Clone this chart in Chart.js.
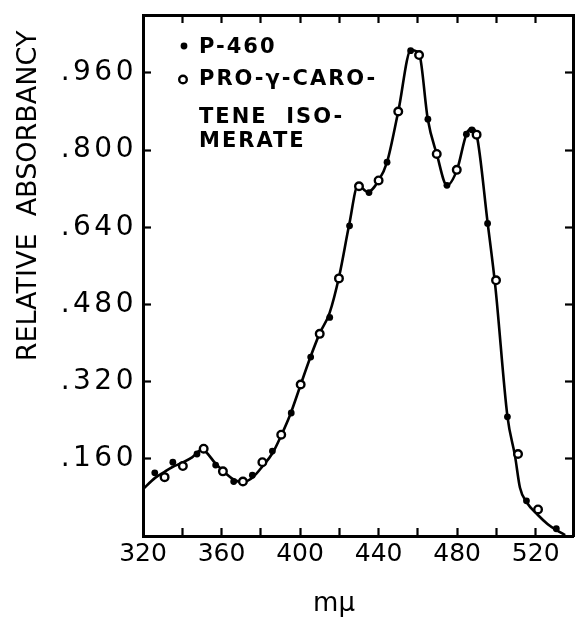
<!DOCTYPE html>
<html>
<head>
<meta charset="utf-8">
<script src="https://cdn.jsdelivr.net/npm/chart.js@4/dist/chart.umd.min.js"></script>
<style>
html,body{margin:0;padding:0;background:#fff;}
#wrap{width:575px;height:621px;}
</style>
</head>
<body>
<div id="wrap"><canvas id="c" width="575" height="621"></canvas></div>
<script>
// P-460 (filled dots)
const p460X = [326, 335.2, 347.5, 357, 366.2, 375.7, 385.9, 395.5, 405.4, 415.1, 425.2, 435.1, 444.3, 456.3, 465.1, 474.8, 484.7, 487.5, 495.5, 505.6, 515.3, 530.5];
const p460Y = [0.131, 0.153, 0.170, 0.147, 0.113, 0.126, 0.176, 0.255, 0.371, 0.453, 0.643, 0.712, 0.775, 1.006, 0.864, 0.727, 0.833, 0.842, 0.648, 0.247, 0.073, 0.015];
// Pro-gamma-carotene isomerate (open circles)
const isoX = [331, 340.3, 350.9, 360.7, 370.9, 380.8, 390.4, 400.3, 410, 419.8, 430, 440, 450, 460.6, 469.6, 479.8, 489.9, 499.8, 511, 521.2];
const isoY = [0.122, 0.145, 0.181, 0.134, 0.113, 0.153, 0.210, 0.314, 0.419, 0.534, 0.725, 0.737, 0.880, 0.997, 0.792, 0.759, 0.832, 0.530, 0.170, 0.055];
// hand-drawn curve through the points
const curveX = [320, 326, 331, 335, 340, 345, 350, 357, 362, 367, 371, 376, 381, 386, 390, 395, 400, 405, 410, 415, 420, 425, 429.5, 434.5, 440, 444.3, 450, 456.5, 459, 461, 465, 469.6, 474.8, 480, 484.7, 487.5, 490, 495.5, 499.5, 505.6, 509.5, 512, 515.4, 521, 526, 530.6, 535];
const curveY = [0.097, 0.120, 0.133, 0.143, 0.152, 0.163, 0.179, 0.150, 0.130, 0.115, 0.112, 0.122, 0.145, 0.172, 0.205, 0.252, 0.310, 0.368, 0.420, 0.462, 0.540, 0.645, 0.727, 0.713, 0.737, 0.775, 0.880, 1.008, 1.005, 0.995, 0.865, 0.792, 0.727, 0.760, 0.833, 0.845, 0.830, 0.650, 0.515, 0.248, 0.165, 0.100, 0.070, 0.044, 0.025, 0.012, 0.002];

const xMin = 320, xMax = 539;
const yMin = 0, yMax = 1.08;
const xTickValues = [320, 340, 360, 380, 400, 420, 440, 460, 480, 500, 520];
const xTickLabels = ['320', '', '360', '', '400', '', '440', '', '480', '', '520'];
const yTickValues = [0.16, 0.32, 0.48, 0.64, 0.80, 0.96];
const yTickLabels = ['.160', '.320', '.480', '.640', '.800', '.960'];
const yTitle = 'RELATIVE  ABSORBANCY';
const xTitle = 'mμ';
const legendP460 = ['P-460'];
const legendIso = ['PRO-γ-CARO-', 'TENE  ISO-', 'MERATE'];

const FONT = '"DejaVu Sans", sans-serif';

function xTicksBuild(s) { s.ticks = xTickValues.map(v => ({ value: v })); }
function yTicksBuild(s) { s.ticks = yTickValues.map(v => ({ value: v })); }
function noPad(s) { s.paddingTop = 0; s.paddingBottom = 0; s.paddingLeft = 0; s.paddingRight = 0; }

const gridOpts = { drawOnChartArea: false, drawTicks: true, tickLength: -8, tickWidth: 2.2, color: '#000' };
const borderOpts = { display: true, color: '#000', width: 3 };

const annotPlugin = {
  id: 'annot',
  beforeDraw(chart) {
    const s = chart.scales.y;
    if (s && !s._patched) {
      const orig = s.drawLabels.bind(s);
      s.drawLabels = function (area) {
        const ctx = this.ctx;
        const prev = ctx.letterSpacing;
        ctx.letterSpacing = '3.5px';
        orig(area);
        ctx.letterSpacing = prev || '0px';
      };
      s._patched = true;
    }
  },
  afterDraw(chart) {
    const ctx = chart.ctx;
    ctx.save();
    ctx.fillStyle = '#000';
    ctx.strokeStyle = '#000';
    // y axis title
    ctx.save();
    ctx.translate(29, 196);
    ctx.rotate(-Math.PI / 2);
    ctx.font = '27px ' + FONT;
    ctx.textAlign = 'center';
    ctx.textBaseline = 'middle';
    ctx.fillText(yTitle, 0, 0);
    ctx.restore();
    // x axis title
    ctx.font = '26px ' + FONT;
    ctx.textAlign = 'center';
    ctx.textBaseline = 'middle';
    ctx.fillText(xTitle, 334, 604);
    // legend
    ctx.beginPath();
    ctx.arc(184, 46, 3.4, 0, Math.PI * 2);
    ctx.fill();
    ctx.beginPath();
    ctx.arc(183, 79.5, 3.8, 0, Math.PI * 2);
    ctx.fillStyle = '#fff';
    ctx.fill();
    ctx.lineWidth = 2.4;
    ctx.stroke();
    ctx.fillStyle = '#000';
    ctx.font = 'bold 21px ' + FONT;
    ctx.textAlign = 'left';
    ctx.textBaseline = 'middle';
    ctx.letterSpacing = '2px';
    ctx.fillText(legendP460[0], 199, 48);
    const ys = [80, 118, 142];
    legendIso.forEach((t, i) => ctx.fillText(t, 199, ys[i]));
    ctx.letterSpacing = '0px';
    ctx.restore();
  }
};

new Chart(document.getElementById('c'), {
  type: 'scatter',
  data: {
    datasets: [
      {
        label: 'curve',
        data: curveX.map((x, i) => ({ x, y: curveY[i] })),
        showLine: true,
        borderColor: '#000',
        borderWidth: 2.6,
        pointRadius: 0,
        cubicInterpolationMode: 'monotone',
        fill: false,
        order: 3
      },
      {
        label: 'P-460',
        data: p460X.map((x, i) => ({ x, y: p460Y[i] })),
        showLine: false,
        pointRadius: 3.4,
        pointBackgroundColor: '#000',
        pointBorderColor: '#000',
        pointBorderWidth: 0,
        order: 2
      },
      {
        label: 'PRO-γ-CAROTENE ISOMERATE',
        data: isoX.map((x, i) => ({ x, y: isoY[i] })),
        showLine: false,
        pointRadius: 3.8,
        pointBackgroundColor: '#fff',
        pointBorderColor: '#000',
        pointBorderWidth: 2.4,
        order: 1
      }
    ]
  },
  options: {
    responsive: false,
    animation: false,
    events: [],
    layout: { padding: 0, autoPadding: false },
    plugins: { legend: { display: false }, tooltip: { enabled: false }, title: { display: false } },
    scales: {
      x: {
        type: 'linear', position: 'bottom', min: xMin, max: xMax,
        afterBuildTicks: xTicksBuild,
        afterFit: s => { s.height = 85; noPad(s); },
        grid: gridOpts, border: borderOpts,
        ticks: {
          color: '#000', font: { family: FONT, size: 25 }, padding: 11,
          maxRotation: 0, autoSkip: false,
          callback: (v) => { const i = xTickValues.indexOf(v); return i >= 0 ? xTickLabels[i] : ''; }
        }
      },
      x2: {
        type: 'linear', position: 'top', min: xMin, max: xMax,
        afterBuildTicks: xTicksBuild,
        afterFit: s => { s.height = 15; noPad(s); },
        grid: gridOpts, border: borderOpts,
        ticks: { display: false }
      },
      y: {
        type: 'linear', position: 'left', min: yMin, max: yMax,
        afterBuildTicks: yTicksBuild,
        afterFit: s => { s.width = 143; noPad(s); },
        grid: gridOpts, border: borderOpts,
        ticks: {
          color: '#000', font: { family: FONT, size: 28 }, padding: 14,
          autoSkip: false,
          callback: (v) => { const i = yTickValues.findIndex(t => Math.abs(t - v) < 1e-9); return i >= 0 ? yTickLabels[i] : ''; }
        }
      },
      y2: {
        type: 'linear', position: 'right', min: yMin, max: yMax,
        afterBuildTicks: yTicksBuild,
        afterFit: s => { s.width = 2; noPad(s); },
        grid: gridOpts, border: borderOpts,
        ticks: { display: false }
      }
    }
  },
  plugins: [annotPlugin]
});
</script>
</body>
</html>
